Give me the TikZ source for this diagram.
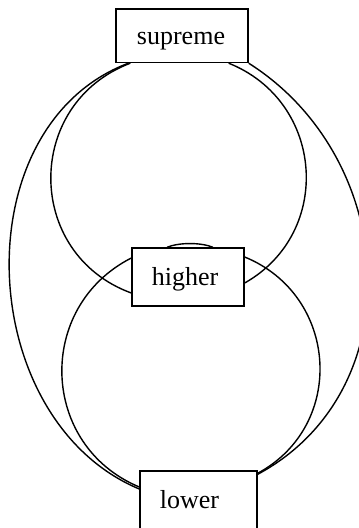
\documentclass[tikz,border=0pt]{standalone}
\usepackage{fontspec}
\setmainfont{Liberation Serif}
\usetikzlibrary{backgrounds}
\begin{document}
\begin{tikzpicture}[x=1pt,y=-1pt,
  box/.style={draw,line width=1.4pt,fill=white,inner sep=0pt,font=\fontsize{26}{30}\selectfont,text height=20pt,text depth=3pt},
  link/.style={line width=1.4pt}]
\clip (0,0) rectangle (359,528);
\useasboundingbox (0,0) rectangle (359,528);
\node[box,minimum width=132pt,minimum height=53.5pt] (sup) at (182,35.75) {supreme\kern2pt};
\node[box,minimum width=112pt,minimum height=58pt] (hig) at (188,277) {higher\kern6pt};
\node[box,minimum width=117pt,minimum height=58pt] (low) at (198.5,500) {lower\kern18pt};
\begin{scope}[on background layer]
\draw[link] ([xshift=15pt]sup.south west) .. controls +(-106.4,40.4) and +(-106.9,-39.1) .. ([yshift=-16pt]hig.west);
\draw[link] ([xshift=-20pt]sup.south east) .. controls +(95.5,38.2) and +(89.2,-50.6) .. ([yshift=-6pt]hig.east);
\draw[link] ([yshift=19pt]hig.west) .. controls +(-96.1,49) and +(-99.6,-41.6) .. ([yshift=13pt]low.west);
\draw[link] ([yshift=20pt]hig.east) .. controls +(93.8,38.3) and +(89.1,-48.2) .. ([yshift=-3pt]low.north east);
\draw[link] ([xshift=13pt]sup.south west) .. controls +(-167,63.4) and +(-165,-69) .. ([yshift=11pt]low.west);
\draw[link] (sup.south east) .. controls +(150,95) and +(156,-84) .. ([yshift=-4pt]low.north east);
\draw[link] ([xshift=-21pt]hig.north) .. controls +(12,-5) and +(-12,-5) .. ([xshift=25pt]hig.north);
\end{scope}
\end{tikzpicture}
\end{document}
